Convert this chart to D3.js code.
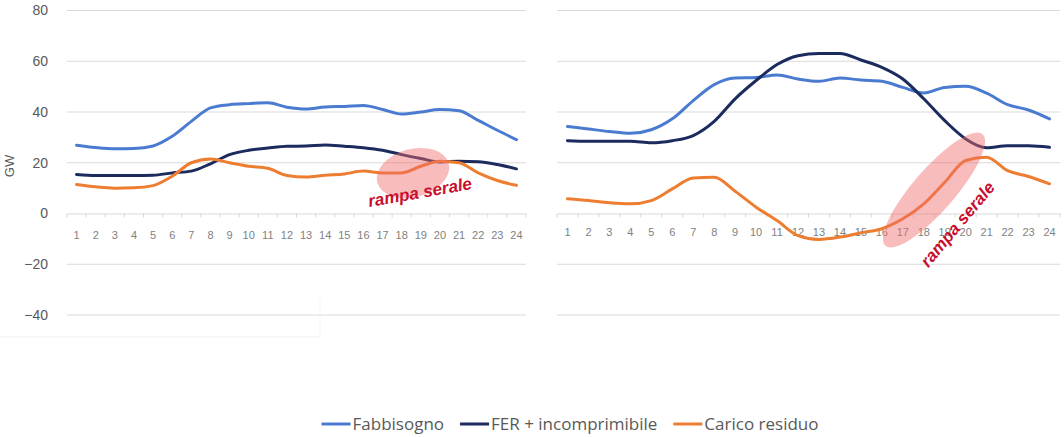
<!DOCTYPE html>
<html>
<head>
<meta charset="utf-8">
<script src="https://cdn.jsdelivr.net/npm/d3@7"></script>
<style>
  html, body { margin: 0; padding: 0; background: #fff; }
  svg { display: block; }
</style>
</head>
<body>
<svg id="chart" width="1064" height="437"></svg>
<script>
// Hours of the day (x categories)
const hours = [1,2,3,4,5,6,7,8,9,10,11,12,13,14,15,16,17,18,19,20,21,22,23,24];
const yTicks = [-40, -20, 0, 20, 40, 60, 80];

// Left day: GW per hour
const leftFabbisogno = [26.9,26.0,25.5,25.6,26.6,30.4,36.3,41.6,42.9,43.3,43.6,41.9,41.2,42.0,42.2,42.6,41.0,39.2,40.0,41.0,40.5,36.7,32.8,29.1];
const leftFER        = [15.4,15.0,15.0,15.0,15.1,16.0,16.7,19.6,23.2,24.9,25.8,26.5,26.6,27.0,26.5,25.9,24.9,23.2,21.7,20.3,20.6,20.4,19.3,17.6];
const leftCarico     = [11.4,10.5,10.0,10.1,11.0,14.7,20.0,21.5,20.0,18.6,17.8,15.0,14.4,15.1,15.6,16.7,16.0,16.0,18.6,20.6,20.0,16.0,13.0,11.1];

// Right day: GW per hour
const rightFabbisogno = [34.3,33.3,32.3,31.6,33.0,37.3,44.5,50.8,53.4,53.6,54.6,53.0,52.1,53.4,52.6,52.1,49.7,47.5,49.7,50.1,47.4,42.9,40.8,37.3];
const rightFER        = [28.7,28.5,28.5,28.5,27.9,28.7,30.7,36.3,45.2,52.4,58.7,62.2,63.1,63.1,60.5,57.6,53.0,45.2,36.6,29.4,25.9,26.7,26.7,26.1];
const rightCarico     = [5.8,5.1,4.2,3.8,5.1,9.7,14.0,14.3,8.8,2.5,-2.8,-8.7,-10.2,-9.3,-7.6,-6.0,-2.1,3.8,12.3,20.9,22.2,16.9,14.6,11.7];

const seriesNames  = ["Fabbisogno", "FER + incomprimibile", "Carico residuo"];
const seriesColors = ["#4a7bd0", "#1c2b5e", "#ed7d31"];
const annotation = "rampa serale";

const svg = d3.select("#chart");
const y = d3.scaleLinear().domain([-40, 80]).range([315, 10.5]);

function panel(x0, x1, data, labelY, showYAxis) {
  const x = d3.scaleBand().domain(hours).range([x0, x1]).padding(0);
  const g = svg.append("g");

  // gridlines
  g.selectAll("line.grid").data(yTicks.filter(t => t !== 0)).join("line")
    .attr("x1", x0).attr("x2", x1)
    .attr("y1", d => y(d)).attr("y2", d => y(d))
    .attr("stroke", "#d9d9d9").attr("stroke-width", 1);

  // category axis on zero line
  const xAxis = d3.axisBottom(x).tickSize(0).tickPadding(0);
  const ax = g.append("g").attr("transform", `translate(0,${y(0)})`).call(xAxis);
  ax.select(".domain").attr("stroke", "#d9d9d9");
  ax.selectAll("text")
    .attr("y", labelY - y(0)).attr("dy", "0.35em")
    .attr("fill", "#7f7f7f").attr("font-size", 11)
    .attr("font-family", "Liberation Sans, Arial, sans-serif");
  // tick marks between categories
  const bounds = hours.map(h => x(h)).concat([x1]);
  g.selectAll("line.tk").data(bounds).join("line")
    .attr("x1", d => d).attr("x2", d => d)
    .attr("y1", y(0)).attr("y2", y(0) + 4)
    .attr("stroke", "#d9d9d9");

  if (showYAxis) {
    const yAxis = d3.axisLeft(y).tickValues(yTicks).tickSize(0).tickPadding(0);
    const ay = g.append("g").attr("transform", `translate(48,0)`).call(yAxis);
    ay.select(".domain").remove();
    ay.selectAll("text").attr("fill", "#595959").attr("font-size", 14)
      .attr("font-family", "Liberation Sans, Arial, sans-serif");
  }

  const line = d3.line()
    .x((d, i) => x(hours[i]) + x.bandwidth() / 2)
    .y(d => y(d))
    .curve(d3.curveMonotoneX);

  data.forEach((vals, k) => {
    g.append("path").datum(vals)
      .attr("d", line)
      .attr("fill", "none")
      .attr("stroke", seriesColors[k])
      .attr("stroke-width", 3)
      .attr("stroke-linejoin", "round")
      .attr("stroke-linecap", "round");
  });
  return { g, x };
}

const L = panel(67, 526, [leftFabbisogno, leftFER, leftCarico], 235, true);
const R = panel(557, 1060, [rightFabbisogno, rightFER, rightCarico], 232, false);

// faint outline of the left chart area
svg.append("line").attr("x1", 0).attr("x2", 320).attr("y1", 337).attr("y2", 337)
  .attr("stroke", "#f0f0f0");
svg.append("line").attr("x1", 320).attr("x2", 320).attr("y1", 300).attr("y2", 337)
  .attr("stroke", "#f3f3f3");

// y axis title
svg.append("text")
  .attr("transform", "translate(14,166) rotate(-90)")
  .attr("text-anchor", "middle")
  .attr("fill", "#595959").attr("font-size", 13)
  .attr("font-family", "Liberation Sans, Arial, sans-serif")
  .text("GW");

// highlighted evening ramps
svg.append("ellipse")
  .attr("cx", 413).attr("cy", 173).attr("rx", 37).attr("ry", 24)
  .attr("transform", "rotate(-15,413,173)")
  .attr("fill", "#f26b6b").attr("opacity", 0.45);
svg.append("ellipse")
  .attr("cx", 934).attr("cy", 190).attr("rx", 74).attr("ry", 21)
  .attr("transform", "rotate(-49,934,190)")
  .attr("fill", "#f26b6b").attr("opacity", 0.45);

const annStyle = sel => sel
  .attr("text-anchor", "middle")
  .attr("fill", "#c8102e").attr("font-size", 17)
  .attr("font-weight", "bold").attr("font-style", "italic")
  .attr("font-family", "Liberation Sans, Arial, sans-serif")
  .text(annotation);
svg.append("text").attr("transform", "translate(421,198) rotate(-10)").call(annStyle);
svg.append("text").attr("transform", "translate(962,228) rotate(-50)").call(annStyle);

// legend: items laid out in sequence, centred under the charts
const lg = svg.append("g");
const itemGap = 16, swatch = 29, swGap = 2;
const items = seriesNames.map((name, i) => {
  const it = lg.append("g");
  it.append("line")
    .attr("x1", 0).attr("x2", swatch)
    .attr("y1", 0).attr("y2", 0)
    .attr("stroke", seriesColors[i]).attr("stroke-width", 3);
  const t = it.append("text")
    .attr("x", swatch + swGap).attr("y", 0).attr("dy", "0.35em")
    .attr("fill", "#595959").attr("font-size", 17)
    .attr("font-family", "Open Sans, sans-serif")
    .text(name);
  return { it, w: swatch + swGap + t.node().getComputedTextLength() };
});
const totalW = d3.sum(items, d => d.w) + itemGap * (items.length - 1);
let cx = 570 - totalW / 2;
items.forEach(d => {
  d.it.attr("transform", `translate(${cx},424)`);
  cx += d.w + itemGap;
});
</script>
</body>
</html>
